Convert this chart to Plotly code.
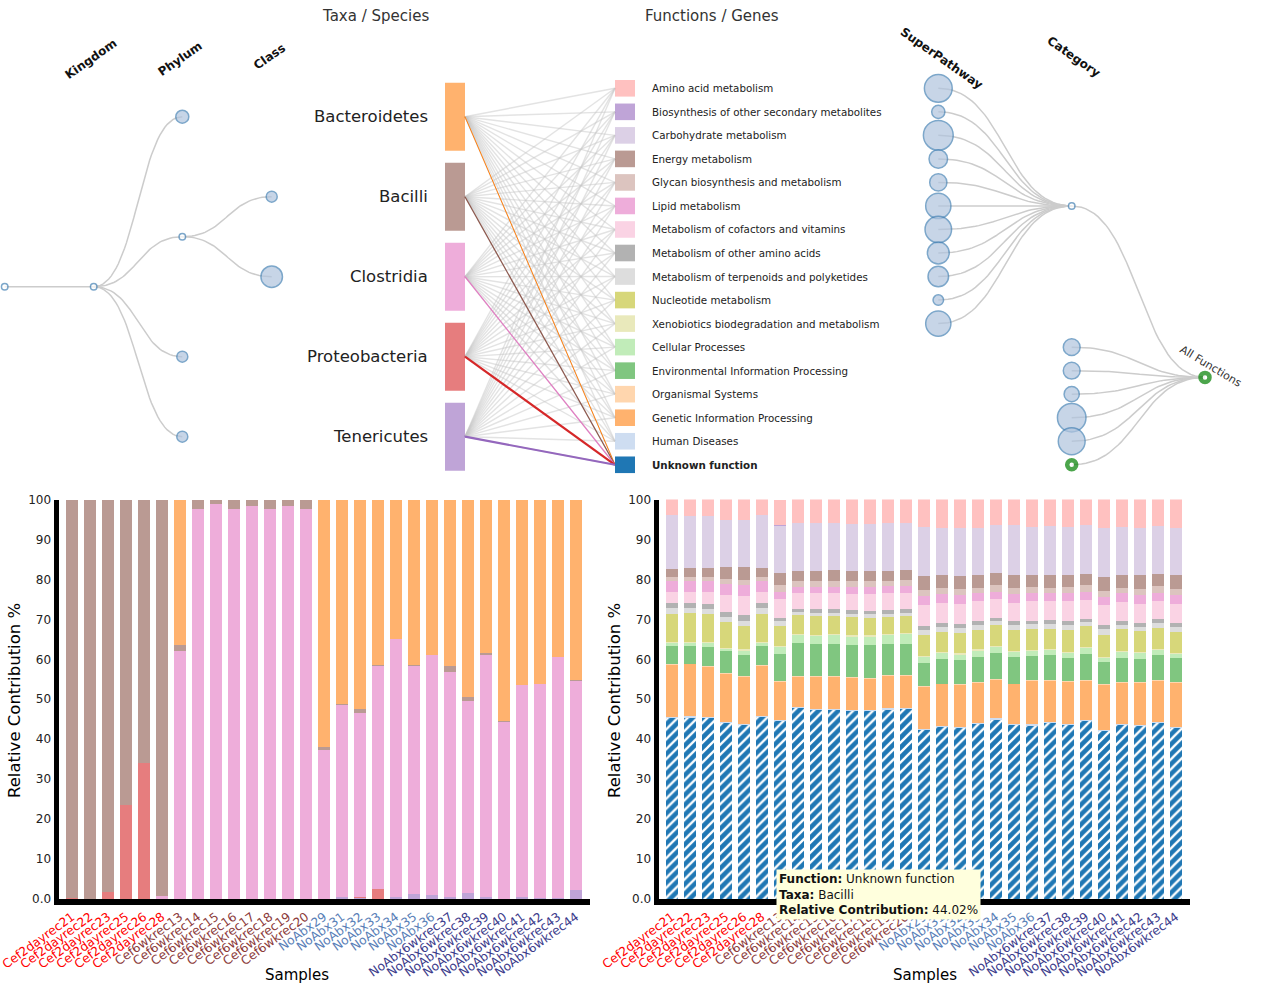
import numpy as np
import plotly.graph_objects as go

W, H = 1266, 1003

# ---------------------------------------------------------------- data
samples = ["Cef2dayrec21", "Cef2dayrec22", "Cef2dayrec23", "Cef2dayrec25", "Cef2dayrec26", "Cef2dayrec28",
           "Cef6wkrec13", "Cef6wkrec14", "Cef6wkrec15", "Cef6wkrec16", "Cef6wkrec17", "Cef6wkrec18",
           "Cef6wkrec19", "Cef6wkrec20",
           "NoAbx29", "NoAbx31", "NoAbx32", "NoAbx33", "NoAbx34", "NoAbx35", "NoAbx36",
           "NoAbx6wkrec37", "NoAbx6wkrec38", "NoAbx6wkrec39", "NoAbx6wkrec40", "NoAbx6wkrec41",
           "NoAbx6wkrec42", "NoAbx6wkrec43", "NoAbx6wkrec44"]
sample_group = (["Cef2dayrec"] * 6 + ["Cef6wkrec"] * 8 + ["NoAbx"] * 7 + ["NoAbx6wkrec"] * 8)

taxa = ["Bacteroidetes", "Bacilli", "Clostridia", "Proteobacteria", "Tenericutes"]

# taxa contribution to the selected function (%), per sample
bacteroidetes = [0, 0, 0, 0, 0, 0, 36.3, 0, 0, 0, 0, 0, 0, 0,
                 61.9, 51.1, 52.5, 41.5, 35.0, 41.5, 39.0,
                 41.8, 49.4, 38.5, 55.5, 46.4, 46.2, 39.3, 45.1]
bacilli = [99.7, 100, 98.3, 76.5, 66.0, 99.2, 1.5, 2.3, 1.0, 2.5, 1.6, 2.5, 1.6, 2.5,
           0.8, 0.3, 1.0, 0.3, 0, 0.3, 0,
           1.4, 1.0, 0.3, 0.2, 0, 0, 0.2, 0.4]
clostridia = [0, 0, 0, 0, 0, 0.8, 62.2, 97.7, 99.0, 97.5, 98.4, 97.5, 98.4, 97.5,
              37.3, 48.1, 45.9, 55.7, 64.6, 57.0, 60.1,
              56.2, 48.0, 60.6, 44.3, 53.2, 53.6, 60.3, 52.2]
proteobacteria = [0.3, 0, 1.7, 23.5, 34.0, 0, 0, 0, 0, 0, 0, 0, 0, 0,
                  0, 0, 0.3, 2.5, 0, 0, 0,
                  0, 0, 0, 0, 0, 0, 0, 0]
tenericutes = [0, 0, 0, 0, 0, 0, 0, 0, 0, 0, 0, 0, 0, 0,
               0, 0.5, 0.3, 0, 0.4, 1.2, 0.9,
               0.6, 1.6, 0.6, 0, 0.4, 0.2, 0.2, 2.3]

functions = ["Amino acid metabolism", "Biosynthesis of other secondary metabolites",
             "Carbohydrate metabolism", "Energy metabolism", "Glycan biosynthesis and metabolism",
             "Lipid metabolism", "Metabolism of cofactors and vitamins", "Metabolism of other amino acids",
             "Metabolism of terpenoids and polyketides", "Nucleotide metabolism",
             "Xenobiotics biodegradation and metabolism", "Cellular Processes",
             "Environmental Information Processing", "Organismal Systems",
             "Genetic Information Processing", "Human Diseases", "Unknown function"]

# function composition per sample (%)
amino_acid = [4.0, 4.1, 4.2, 5.2, 5.2, 4.0, 6.3, 5.9, 5.9, 5.8, 6.1, 6.1, 5.9, 5.9,
              7.0, 7.1, 7.1, 7.1, 6.3, 6.5, 6.9, 6.7, 6.9, 6.3, 7.1, 6.9, 7.1, 6.7, 7.1]
biosynthesis = [0.03, 0.03, 0.03, 0.03, 0.03, 0.03, 0.3, 0.03, 0.03, 0.03, 0.03, 0.03, 0.03, 0.03,
                0.03, 0.03, 0.03, 0.03, 0.03, 0.03, 0.03, 0.03, 0.03, 0.03, 0.03, 0.03, 0.03, 0.03, 0.03]
carbohydrate = [13.3, 13.1, 13.0, 11.7, 11.7, 13.2, 11.8, 11.9, 11.9, 11.9, 11.9, 11.9, 11.9, 11.8,
                12.2, 11.9, 12.1, 11.9, 12.2, 12.3, 11.9, 12.3, 11.9, 12.4, 12.3, 12.1, 11.9, 11.9, 11.9]
energy = [2.1, 2.2, 2.2, 3.1, 3.3, 2.2, 3.1, 2.5, 2.5, 2.6, 2.5, 2.5, 2.5, 2.4,
          3.5, 3.2, 3.3, 3.1, 3.0, 3.4, 3.1, 3.1, 3.2, 2.8, 3.4, 3.1, 3.4, 3.1, 3.4]
glycan = [1.1, 1.0, 1.1, 1.1, 1.1, 1.1, 1.7, 1.5, 1.5, 1.5, 1.4, 1.4, 1.4, 1.5,
          1.5, 1.4, 1.3, 1.2, 1.7, 1.4, 1.5, 1.3, 1.3, 1.7, 1.6, 1.3, 1.4, 1.6, 1.6]
lipid = [2.7, 2.8, 2.7, 2.7, 2.9, 2.7, 1.6, 1.6, 1.6, 1.7, 1.7, 1.7, 1.7, 1.7,
         2.1, 2.3, 2.4, 2.2, 1.8, 2.2, 2.1, 2.1, 2.2, 2.0, 2.1, 2.3, 2.3, 2.0, 2.1]
cofactors = [2.7, 2.7, 3.0, 4.4, 4.8, 2.7, 4.9, 3.9, 4.1, 3.9, 4.1, 4.4, 4.3, 4.2,
             5.4, 5.0, 4.9, 4.8, 4.6, 4.7, 4.8, 4.7, 5.0, 4.6, 5.0, 4.7, 4.8, 4.7, 4.8]
other_amino = [1.3, 1.3, 1.3, 1.2, 1.3, 1.3, 0.7, 0.9, 0.9, 0.9, 0.9, 0.7, 0.9, 0.9,
               1.0, 1.0, 1.0, 1.0, 0.9, 0.8, 0.9, 0.9, 0.8, 0.9, 1.0, 0.9, 0.9, 0.9, 0.9]
terpenoids = [1.4, 1.3, 1.2, 1.3, 1.4, 1.4, 1.3, 0.8, 0.8, 0.8, 0.8, 0.9, 0.8, 0.8,
              1.3, 1.3, 1.2, 1.3, 1.0, 1.3, 1.3, 1.2, 1.3, 1.0, 1.3, 1.0, 1.0, 1.3, 1.4]
nucleotide = [7.1, 7.1, 7.0, 6.5, 5.8, 7.1, 5.0, 4.6, 4.6, 4.6, 4.6, 4.4, 4.2, 4.2,
              5.2, 5.0, 5.2, 4.9, 5.2, 5.2, 5.2, 5.1, 5.6, 5.2, 5.6, 5.6, 5.4, 5.1, 5.2]
xenobiotics = [0.3] * 29
cellular = [0.7, 0.8, 0.9, 0.3, 1.2, 0.7, 1.6, 2.0, 2.1, 2.1, 2.2, 2.2, 2.3, 2.5,
            1.4, 1.3, 1.4, 1.5, 1.5, 1.4, 1.2, 1.3, 1.2, 1.5, 1.0, 1.4, 1.3, 1.4, 1.0]
environmental = [4.5, 4.4, 4.8, 5.6, 5.2, 4.8, 6.8, 8.3, 8.0, 8.1, 8.0, 8.2, 7.8, 7.8,
                 5.8, 6.3, 6.0, 6.4, 6.5, 6.6, 6.0, 6.2, 5.7, 6.5, 5.6, 6.1, 6.0, 6.3, 6.0]
organismal = [0.2] * 29
genetic = [13.0, 13.0, 12.6, 12.1, 11.7, 12.4, 9.5, 7.6, 8.0, 8.1, 8.0, 7.8, 8.1, 7.9,
           10.5, 10.4, 10.5, 10.0, 9.6, 9.9, 10.9, 10.3, 10.5, 9.8, 11.2, 10.2, 10.5, 10.2, 11.0]
human_diseases = [0.3] * 29
unknown_function = [45.3, 45.4, 45.2, 44.0, 43.6, 45.6, 44.6, 47.7, 47.3, 47.2, 47.0, 47.0, 47.4, 47.6,
                    42.3, 43.0, 42.8, 43.8, 44.9, 43.5, 43.4, 44.0, 43.6, 44.5, 42.0, 43.6, 43.2, 44.0, 42.8]

tooltip_function = "Unknown function"
tooltip_taxa = "Bacilli"
tooltip_value = 44.02

# ---------------------------------------------------------------- styles
FONT = "DejaVu Sans"
taxa_colors = ["rgba(255,127,14,0.6)", "rgba(140,86,75,0.6)", "rgba(227,119,194,0.6)",
               "rgba(214,39,40,0.6)", "rgba(148,103,189,0.6)"]
taxa_line_colors = ["#ff7f0e", "#8c564b", "#e377c2", "#d62728", "#9467bd"]
taxa_line_widths = [1.0, 1.2, 1.2, 2.2, 2.2]
function_colors = ["rgba(255,152,150,0.6)", "rgba(148,103,189,0.6)", "rgba(197,176,213,0.6)",
                   "rgba(140,86,75,0.6)", "rgba(196,156,148,0.6)", "rgba(227,119,194,0.6)",
                   "rgba(247,182,210,0.6)", "rgba(127,127,127,0.6)", "rgba(199,199,199,0.6)",
                   "rgba(188,189,34,0.6)", "rgba(219,219,141,0.6)", "rgba(152,223,138,0.6)",
                   "rgba(44,160,44,0.6)", "rgba(255,187,120,0.6)", "rgba(255,127,14,0.6)",
                   "rgba(174,199,232,0.6)", "#1f77b4"]
group_color = {"Cef2dayrec": "red", "Cef6wkrec": "#8b3a3a",
               "NoAbx": "#5a7fb8", "NoAbx6wkrec": "#3c3c8c"}

NODE_FILL = "#b0c4de"
NODE_LINE = "#4682b4"
LINK = "#cccccc"

# ---------------------------------------------------------------- helpers
def curve(x0, y0, x1, y1, n=40):
    t = np.linspace(0, 1, n)
    xm = (x0 + x1) / 2
    bx = (1 - t) ** 3 * x0 + 3 * (1 - t) ** 2 * t * xm + 3 * (1 - t) * t ** 2 * xm + t ** 3 * x1
    by = (1 - t) ** 3 * y0 + 3 * (1 - t) ** 2 * t * y0 + 3 * (1 - t) * t ** 2 * y1 + t ** 3 * y1
    return list(bx), list(by)


def link_path(pairs, straight=False):
    xs, ys = [], []
    for x0, y0, x1, y1 in pairs:
        if straight:
            bx, by = [x0, x1], [y0, y1]
        else:
            bx, by = curve(x0, y0, x1, y1)
        xs += bx + [None]
        ys += by + [None]
    return xs, ys


fig = go.Figure()
TOP = dict(xaxis="x3", yaxis="y3", hoverinfo="skip", showlegend=False, cliponaxis=False)

# ---------------------------------------------------------------- left taxonomy tree
LX = [4.7, 93.7, 182.3, 271.7]           # depth positions
ROW0, ROWSTEP = 116.7, 80.0
taxa_y = [ROW0 + ROWSTEP * i for i in range(len(taxa))]
phylum_y = [taxa_y[0], (taxa_y[1] + taxa_y[2]) / 2, taxa_y[3], taxa_y[4]]
kingdom_y = float(np.mean(phylum_y))

pairs = [(LX[0], kingdom_y, LX[1], kingdom_y)]
pairs += [(LX[1], kingdom_y, LX[2], yy) for yy in phylum_y]
pairs += [(LX[2], phylum_y[1], LX[3], taxa_y[1]), (LX[2], phylum_y[1], LX[3], taxa_y[2])]
xs, ys = link_path(pairs)
fig.add_trace(go.Scatter(x=xs, y=ys, mode="lines", line=dict(color=LINK, width=1.5), **TOP))

node_x = [LX[0], LX[1], LX[2], LX[2], LX[2], LX[2], LX[3], LX[3]]
node_y = [kingdom_y, kingdom_y] + phylum_y + [taxa_y[1], taxa_y[2]]
node_size = [6.5, 6.5, 13, 6.5, 11, 11, 11, 21.5]
node_fill = ["white", "white", NODE_FILL, "white", NODE_FILL, NODE_FILL, NODE_FILL, NODE_FILL]
fig.add_trace(go.Scatter(x=node_x, y=node_y, mode="markers",
                         marker=dict(size=node_size, color=node_fill,
                                     line=dict(color=NODE_LINE, width=1.5)), **TOP))

# ---------------------------------------------------------------- taxa -> function links
TBX0, TBX1 = 445, 465
FBX0, FBX1 = 615, 635
FROW0, FROWSTEP = 88.3, 23.53
func_y = [FROW0 + FROWSTEP * i for i in range(len(functions))]

gray_pairs = [(TBX1, ty, FBX0, fy) for ty in taxa_y for fy in func_y[:-1]]
gray_pairs += [(TBX1, ty, FBX0, func_y[-1]) for ty in taxa_y]
xs, ys = link_path(gray_pairs, straight=True)
fig.add_trace(go.Scatter(x=xs, y=ys, mode="lines",
                         line=dict(color="rgba(200,200,200,0.5)", width=1.4), **TOP))
for i, ty in enumerate(taxa_y):
    fig.add_trace(go.Scatter(x=[TBX1, FBX0], y=[ty, func_y[-1]], mode="lines",
                             line=dict(color=taxa_line_colors[i], width=taxa_line_widths[i]), **TOP))

shapes = []
for i, ty in enumerate(taxa_y):
    shapes.append(dict(type="rect", xref="x3", yref="y3", x0=TBX0, x1=TBX1, y0=ty - 34, y1=ty + 34,
                       fillcolor=taxa_colors[i], line=dict(width=0), layer="above"))
for j, fy in enumerate(func_y):
    shapes.append(dict(type="rect", xref="x3", yref="y3", x0=FBX0, x1=FBX1, y0=fy - 8.3, y1=fy + 8.3,
                       fillcolor=function_colors[j], line=dict(width=0), layer="above"))

# ---------------------------------------------------------------- right function tree
RX = [1205.0, 1071.7, 938.3]
n_meta = 11
meta_y = float(np.mean(func_y[:n_meta]))
cat_y = func_y[n_meta:]
root_y = float(np.mean([meta_y] + cat_y))

pairs = [(RX[2], fy, RX[1], meta_y) for fy in func_y[:n_meta]]
pairs += [(RX[1], meta_y, RX[0], root_y)]
pairs += [(RX[1], cy, RX[0], root_y) for cy in cat_y]
xs, ys = link_path(pairs)
fig.add_trace(go.Scatter(x=xs, y=ys, mode="lines", line=dict(color=LINK, width=1.5), **TOP))

super_sizes = [27.8, 13.2, 29.8, 18.5, 17.2, 25.2, 26.5, 21.8, 20.5, 10.5, 25.2]
fig.add_trace(go.Scatter(x=[RX[2]] * n_meta, y=func_y[:n_meta], mode="markers",
                         marker=dict(size=super_sizes, color=NODE_FILL,
                                     line=dict(color=NODE_LINE, width=1.5)), **TOP))
cat_sizes = [16.8, 16.8, 15.2, 28.5, 26.8]
fig.add_trace(go.Scatter(x=[RX[1]] * 5 + [RX[1]], y=cat_y[:5] + [meta_y], mode="markers",
                         marker=dict(size=cat_sizes + [6.5], color=[NODE_FILL] * 5 + ["white"],
                                     line=dict(color=NODE_LINE, width=1.5)), **TOP))
fig.add_trace(go.Scatter(x=[RX[1], RX[0]], y=[cat_y[5], root_y], mode="markers",
                         marker=dict(size=[9, 9], color="white",
                                     line=dict(color="green", width=4.5)), **TOP))

# ---------------------------------------------------------------- top annotations
ann = []
def top_text(x, y, text, size, xanchor="center", angle=0, color="#222", bold=False):
    ann.append(dict(xref="x3", yref="y3", x=x, y=y, text=("<b>%s</b>" % text) if bold else text,
                    showarrow=False, xanchor=xanchor, yanchor="middle", textangle=angle,
                    font=dict(family=FONT, size=size, color=color)))

top_text(375, 16, "Taxa / Species", 15, color="#333")
top_text(712, 16, "Functions / Genes", 15, color="#333")
for lbl, x, y in [("Kingdom", 91, 59), ("Phylum", 180, 59), ("Class", 269, 57)]:
    top_text(x, y, lbl, 12, angle=-35, color="#111", bold=True)
for lbl, x, y in [("SuperPathway", 941, 58), ("Category", 1074, 57)]:
    top_text(x, y, lbl, 12, angle=35, color="#111", bold=True)
top_text(1211, 366, "All Functions", 11, angle=31, color="#333")
for i, t in enumerate(taxa):
    top_text(430, taxa_y[i], t, 16.5, xanchor="right", color="#222")
for j, f in enumerate(functions):
    top_text(650, func_y[j], f, 10.3, xanchor="left", color="#222", bold=(f == "Unknown function"))

# ---------------------------------------------------------------- bar charts
taxa_series = [("Tenericutes", tenericutes, taxa_colors[4]),
               ("Proteobacteria", proteobacteria, taxa_colors[3]),
               ("Clostridia", clostridia, taxa_colors[2]),
               ("Bacilli", bacilli, taxa_colors[1]),
               ("Bacteroidetes", bacteroidetes, taxa_colors[0])]
for name, vals, col in taxa_series:
    fig.add_trace(go.Bar(x=samples, y=vals, name=name, xaxis="x", yaxis="y",
                         marker=dict(color=col, line=dict(width=0)),
                         hoverinfo="skip", showlegend=False))

function_series = [unknown_function, human_diseases, genetic, organismal, environmental, cellular,
                   xenobiotics, nucleotide, terpenoids, other_amino, cofactors, lipid, glycan,
                   energy, carbohydrate, biosynthesis, amino_acid]
for k, vals in enumerate(function_series):
    j = len(functions) - 1 - k
    marker = dict(color=function_colors[j], line=dict(width=0))
    if functions[j] == "Unknown function":
        marker["pattern"] = dict(shape="/", fgcolor="white", bgcolor="#1f77b4",
                                 size=7, solidity=0.33, fillmode="replace")
    fig.add_trace(go.Bar(x=samples, y=vals, name=functions[j], xaxis="x2", yaxis="y2",
                         marker=marker, hoverinfo="skip", showlegend=False))

ticktext = ['<span style="color:%s">%s</span>' % (group_color[g], s)
            for s, g in zip(samples, sample_group)]


def px(v):
    return v / W


def py(v):
    return 1 - v / H


YT, YB = 499.5, 899.0
common_x = dict(type="category", range=[-0.75, 28.75], tickvals=samples, ticktext=ticktext,
                tickangle=-36, showline=True, linewidth=6, linecolor="black", ticks="",
                showgrid=False, zeroline=False, fixedrange=True, automargin=False,
                tickfont=dict(family=FONT, size=12.3))
common_y = dict(range=[0, 100], tickvals=list(range(0, 101, 10)),
                ticktext=["0.0"] + [str(v) for v in range(10, 101, 10)],
                showline=True, linewidth=5, linecolor="black", ticks="",
                showgrid=False, zeroline=False, fixedrange=True, automargin=False,
                tickfont=dict(family=FONT, size=12, color="#222"),
                domain=[py(YB), py(YT)])

fig.update_layout(
    xaxis=dict(domain=[px(58.5), px(589.5)], anchor="y", **common_x),
    yaxis=dict(anchor="x", **common_y),
    xaxis2=dict(domain=[px(658.5), px(1189.5)], anchor="y2", **common_x),
    yaxis2=dict(anchor="x2", **common_y),
    xaxis3=dict(domain=[0, 1], range=[0, W], visible=False, anchor="y3", fixedrange=True,
                automargin=False),
    yaxis3=dict(domain=[0, 1], range=[H, 0], visible=False, anchor="x3", fixedrange=True,
                automargin=False),
)

# axis titles
for x in (14, 614):
    ann.append(dict(xref="paper", yref="paper", x=px(x), y=py(701), text="Relative Contribution %",
                    textangle=-90, showarrow=False, xanchor="center", yanchor="middle",
                    font=dict(family=FONT, size=16.5, color="black")))
for x in (297, 925):
    ann.append(dict(xref="paper", yref="paper", x=px(x), y=py(975), text="Samples",
                    showarrow=False, xanchor="center", yanchor="middle",
                    font=dict(family=FONT, size=15, color="black")))

# hover tooltip box
ann.append(dict(xref="paper", yref="paper", x=px(776), y=py(869), xanchor="left", yanchor="top",
                align="left", showarrow=False, bgcolor="rgb(255,255,221)", borderpad=2,
                text=("<b>Function:</b> %s<br><b>Taxa:</b> %s<br><b>Relative Contribution:</b> %.2f%%"
                      % (tooltip_function, tooltip_taxa, tooltip_value)),
                font=dict(family=FONT, size=12, color="#111")))

fig.update_layout(
    width=W, height=H, margin=dict(l=0, r=0, t=0, b=0, autoexpand=False),
    paper_bgcolor="white", plot_bgcolor="rgba(0,0,0,0)",
    barmode="stack", bargap=1 / 3, showlegend=False, hovermode=False,
    shapes=shapes, annotations=ann,
    font=dict(family=FONT, color="#222"),
)

fig.write_html("out.html")
